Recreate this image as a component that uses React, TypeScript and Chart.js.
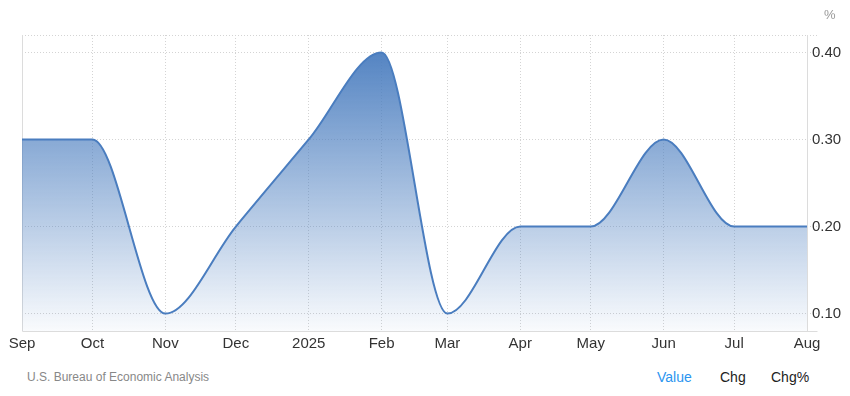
import React, { useEffect, useRef } from "react";
import { Chart, registerables } from "chart.js";

Chart.register(...registerables);

const monthLabels = ["Sep", "Oct", "Nov", "Dec", "2025", "Feb", "Mar", "Apr", "May", "Jun", "Jul", "Aug"];
const monthDates = [
  "2024-09-01", "2024-10-01", "2024-11-01", "2024-12-01", "2025-01-01", "2025-02-01",
  "2025-03-01", "2025-04-01", "2025-05-01", "2025-06-01", "2025-07-01", "2025-08-01",
];
const values = [0.3, 0.3, 0.1, 0.2, 0.3, 0.4, 0.1, 0.2, 0.2, 0.3, 0.2, 0.2];
const yTicks = [0.1, 0.2, 0.3, 0.4];
const yMin = 0.08;
const yMax = 0.42;

const FONT = "Arial, 'Liberation Sans', sans-serif";

const dayOf = (d: string) => Math.round((Date.parse(d) - Date.parse(monthDates[0])) / 86400000);
const xs = monthDates.map(dayOf);

export default function App() {
  const ref = useRef<HTMLCanvasElement | null>(null);

  useEffect(() => {
    if (!ref.current) return;
    const frame = {
      id: "frame",
      beforeDatasetsDraw(chart: any) {
        const { ctx, chartArea } = chart;
        const l = Math.round(chartArea.left) + 0.5;
        const r = Math.round(chartArea.right) + 0.5;
        const t = Math.round(chartArea.top);
        const b = Math.round(chartArea.bottom) + 0.5;
        ctx.save();
        ctx.strokeStyle = "#dcdcdc";
        ctx.lineWidth = 1;
        ctx.setLineDash([]);
        ctx.beginPath();
        ctx.moveTo(l, t);
        ctx.lineTo(l, b);
        ctx.moveTo(r, t);
        ctx.lineTo(r, b);
        ctx.moveTo(l, b);
        ctx.lineTo(r + 10, b);
        ctx.stroke();
        ctx.restore();
      },
    };
    const chart = new Chart(ref.current, {
      type: "line",
      data: {
        datasets: [
          {
            data: xs.map((x, i) => ({ x, y: values[i] })),
            borderColor: "#4a7dbf",
            borderWidth: 2,
            pointRadius: 0,
            cubicInterpolationMode: "monotone",
            fill: "start",
            backgroundColor: (c: any) => {
              const area = c.chart.chartArea;
              if (!area) return "rgba(74,125,191,0.5)";
              const g = c.chart.ctx.createLinearGradient(0, area.top, 0, area.bottom);
              g.addColorStop(0, "rgba(74,125,191,1)");
              g.addColorStop(1, "rgba(74,125,191,0.03)");
              return g;
            },
          },
        ],
      },
      options: {
        animation: false,
        responsive: false,
        maintainAspectRatio: false,
        layout: { padding: { left: 22, top: 35, right: 0, bottom: 0 } },
        plugins: { legend: { display: false }, tooltip: { enabled: false } },
        scales: {
          x: {
            type: "linear",
            min: xs[0],
            max: xs[xs.length - 1],
            afterBuildTicks: (s: any) => {
              s.ticks = xs.map((v) => ({ value: v }));
            },
            afterFit: (s: any) => {
              s.height = 29;
            },
            ticks: {
              autoSkip: false,
              maxRotation: 0,
              padding: 4,
              color: "#333",
              font: { family: FONT, size: 15 },
              callback: (v: any) => {
                const i = xs.indexOf(Number(v));
                return i >= 0 ? monthLabels[i] : "";
              },
            },
            grid: { color: "#d4d4d4", drawTicks: false, tickLength: 0 },
            border: { display: false, dash: [1, 2] },
          },
          y: {
            position: "right",
            min: yMin,
            max: yMax,
            afterBuildTicks: (s: any) => {
              s.ticks = [...yTicks, yMax].map((v) => ({ value: v }));
            },
            afterFit: (s: any) => {
              s.width = 43;
            },
            ticks: {
              padding: -5,
              color: "#333",
              font: { family: FONT, size: 15 },
              callback: (v: any) => (yTicks.includes(Number(v)) ? Number(v).toFixed(2) : ""),
            },
            grid: { color: "#d4d4d4", drawTicks: true, tickLength: 10, tickColor: "#d4d4d4", tickBorderDash: [1, 2] },
            border: { display: false, dash: [1, 2] },
          },
        },
      } as any,
      plugins: [frame],
    });
    return () => chart.destroy();
  }, []);

  return (
    <div style={{ position: "fixed", left: 0, top: 0, width: 850, height: 396, background: "#fff", fontFamily: FONT }}>
      <canvas ref={ref} width={850} height={360} style={{ position: "absolute", left: 0, top: 0, width: 850, height: 360 }} />
      <div style={{ position: "absolute", left: 824, top: 7, fontSize: 13, color: "#999" }}>%</div>
      <div style={{ position: "absolute", left: 27, top: 370, fontSize: 12, color: "#888" }}>U.S. Bureau of Economic Analysis</div>
      <div style={{ position: "absolute", left: 657, top: 369, fontSize: 14, color: "#2b95f0" }}>Value</div>
      <div style={{ position: "absolute", left: 720, top: 369, fontSize: 14, color: "#222" }}>Chg</div>
      <div style={{ position: "absolute", left: 771, top: 369, fontSize: 14, color: "#222" }}>Chg%</div>
    </div>
  );
}
